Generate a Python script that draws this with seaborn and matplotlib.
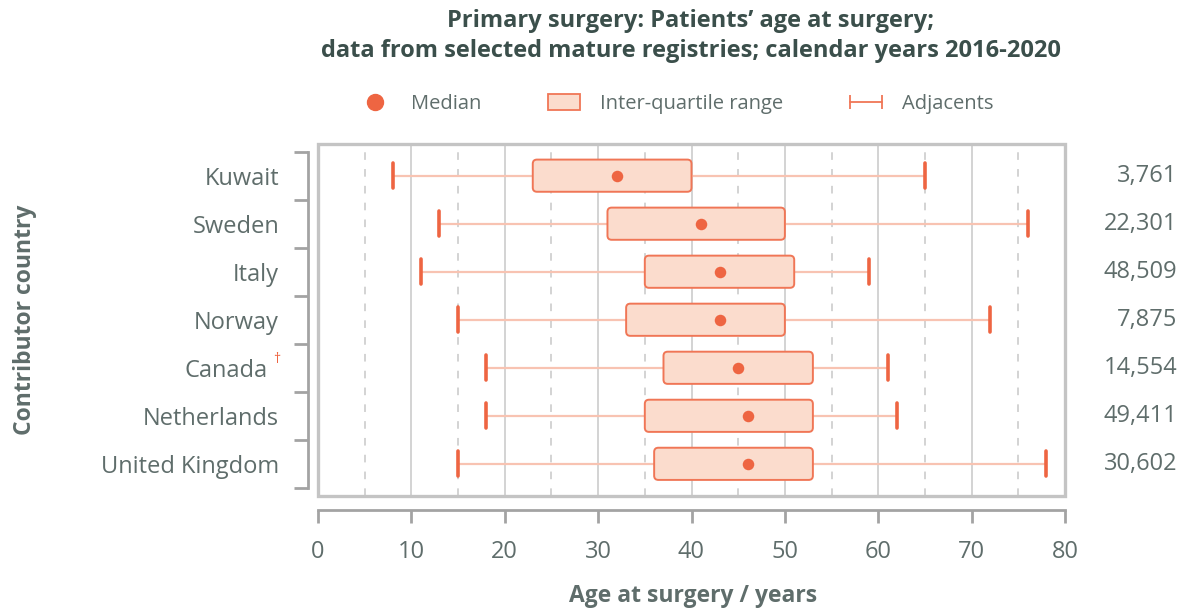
import numpy as np
import pandas as pd
import matplotlib
matplotlib.use("Agg")
import matplotlib.pyplot as plt
import matplotlib.transforms as mtransforms
from matplotlib.patches import FancyBboxPatch, Rectangle, Patch
from matplotlib.lines import Line2D
from matplotlib.legend_handler import HandlerLine2D
import seaborn as sns

# ---------------- data ----------------
countries = ["Kuwait", "Sweden", "Italy", "Norway", "Canada", "Netherlands", "United Kingdom"]
lower_adjacent = [8, 13, 11, 15, 18, 18, 15]
quartile_1 = [23, 31, 35, 33, 37, 35, 36]
median_age = [32, 41, 43, 43, 45, 46, 46]
quartile_3 = [40, 50, 51, 50, 53, 53, 53]
upper_adjacent = [65, 76, 59, 72, 61, 62, 78]
patient_counts = ["3,761", "22,301", "48,509", "7,875", "14,554", "49,411", "30,602"]
x_ticks = [0, 10, 20, 30, 40, 50, 60, 70, 80]
x_minor_ticks = [5, 15, 25, 35, 45, 55, 65, 75]

# five-number summaries as rows (quartiles reproduce exactly with 5 points)
rows = []
for c, a, b, m, d, e in zip(countries, lower_adjacent, quartile_1, median_age, quartile_3, upper_adjacent):
    for v in (a, b, m, d, e):
        rows.append({"country": c, "age": v})
df = pd.DataFrame(rows)
med_df = pd.DataFrame({"country": countries, "age": median_age})

# ---------------- style ----------------
FILL = "#fbdccd"
EDGE = "#f07656"
DOT = "#ee6542"
WHISK = "#f8c3b2"
CAP = "#ee6542"
GRID = "#c8c8c8"
FRAME = "#c4c4c4"
AXIS = "#a3a3a3"
TEXT = "#5f6d6b"
TITLE = "#3b4f4b"

sns.set_theme(style="white")
plt.rcParams["font.family"] = ["Open Sans", "DejaVu Sans"]

fig = plt.figure(figsize=(11.87, 6.11), dpi=100)
ax = fig.add_axes([318 / 1187, 1 - 496 / 611, (1065 - 318) / 1187, (496 - 143.5) / 611])

sns.boxplot(
    data=df, x="age", y="country", order=countries, orient="h",
    whis=(0, 100), width=0.67, showfliers=False,
    color=FILL, linecolor=EDGE, linewidth=1.3,
    boxprops=dict(facecolor=FILL, edgecolor=EDGE, linewidth=1.3),
    whiskerprops=dict(color=WHISK, linewidth=1.6),
    capprops=dict(color=CAP, linewidth=2.6),
    medianprops=dict(visible=False),
    capwidths=0.52,
    ax=ax,
)

sns.stripplot(data=med_df, x="age", y="country", order=countries, orient="h",
              jitter=False, color=DOT, size=8.3, linewidth=0, ax=ax, zorder=5)

ax.set_xlim(0, 80)
ax.set_ylim(6.5 + 0.17, -0.5 - 0.17)

# rounded boxes replacing seaborn's rectangles
fig.canvas.draw()
px_x = ax.transData.transform((1, 0))[0] - ax.transData.transform((0, 0))[0]
px_y = abs(ax.transData.transform((0, 1))[1] - ax.transData.transform((0, 0))[1])
aspect = px_x / px_y
for p in list(ax.patches):
    ext = p.get_path().get_extents()
    if ext.width <= 0:
        continue
    p.set_visible(False)
    fb = FancyBboxPatch((ext.x0, ext.y0), ext.width, ext.height,
                        boxstyle="round,pad=0,rounding_size=0.45",
                        mutation_aspect=aspect,
                        facecolor=FILL, edgecolor=EDGE, linewidth=1.4, zorder=3)
    ax.add_patch(fb)

# grid
ax.set_xticks(x_ticks)
ax.set_xticks(x_minor_ticks, minor=True)
ax.grid(False)
ax.grid(True, which="major", axis="x", color=GRID, linewidth=1.1, zorder=0)
ax.grid(True, which="minor", axis="x", color=GRID, linewidth=1.1, linestyle=(0, (5, 6)), zorder=0)
ax.set_axisbelow(True)

# y axis: labels at centers, ticks at boundaries
ax.set_yticks(range(len(countries)))
ax.set_yticklabels(countries)
ax.set_yticks(np.arange(-0.5, len(countries), 1.0), minor=True)
ax.tick_params(axis="y", which="major", length=0, pad=21, labelsize=17, labelcolor=TEXT)
ax.tick_params(axis="y", which="minor", length=10, width=2, color=AXIS, left=True)
ax.tick_params(axis="x", which="major", length=9, width=2, color=AXIS, bottom=True,
               direction="out", pad=13, labelsize=17, labelcolor=TEXT)
ax.tick_params(axis="x", which="minor", length=0)
ax.set_xlabel("")
ax.set_ylabel("")

for s in ["top", "right"]:
    ax.spines[s].set_visible(False)
ax.spines["left"].set_position(("outward", 7))
ax.spines["left"].set_bounds(-0.5, 6.5)
ax.spines["left"].set_color(AXIS)
ax.spines["left"].set_linewidth(2)
ax.spines["bottom"].set_position(("outward", 10))
ax.spines["bottom"].set_bounds(0, 80)
ax.spines["bottom"].set_color(AXIS)
ax.spines["bottom"].set_linewidth(2)

# frame around the plotting area
ax.add_patch(Rectangle((0, 0), 1, 1, transform=ax.transAxes, fill=False,
                       edgecolor=FRAME, linewidth=2.4, clip_on=False, zorder=6))

# Canada dagger
for lbl in ax.get_yticklabels():
    if lbl.get_text() == "Canada":
        lbl.set_transform(lbl.get_transform() +
                          mtransforms.ScaledTranslation(-8 / 72, 0, fig.dpi_scale_trans))
bt = mtransforms.blended_transform_factory(ax.transAxes, ax.transData)
ax.annotate("\u2020", xy=(0, countries.index("Canada")), xycoords=bt,
            xytext=(-30, 6), textcoords="offset points", ha="center", va="center",
            fontsize=10, color=DOT, annotation_clip=False)

# patient counts at right
for i, n in enumerate(patient_counts):
    ax.annotate(n, xy=(1, i), xycoords=bt, xytext=(81, 0), textcoords="offset points",
                ha="right", va="center", fontsize=17, color=TEXT, annotation_clip=False)

# titles and labels
fig.text(691 / 1187, 1 - 36 / 611,
         "Primary surgery: Patients\u2019 age at surgery;\ndata from selected mature registries; calendar years 2016-2020",
         ha="center", va="center", fontsize=17, fontweight="bold", color=TITLE, linespacing=1.3)
fig.text(25 / 1187, 1 - 320 / 611, "Contributor country", rotation=90,
         ha="center", va="center", fontsize=16.5, fontweight="bold", color=TEXT)
fig.text(693 / 1187, 1 - 596 / 611, "Age at surgery / years",
         ha="center", va="center", fontsize=16.5, fontweight="bold", color=TEXT)

# legend
h_med = Line2D([], [], linestyle="none", marker="o", markersize=11.5, color=DOT)
h_iqr = Patch(facecolor=FILL, edgecolor=EDGE, linewidth=1.3)
h_adj = Line2D([], [], color=EDGE, linewidth=1.3, marker="|", markersize=10, markeredgewidth=1.3)
leg = fig.legend([h_med, h_iqr, h_adj], ["Median", "Inter-quartile range", "Adjacents"],
                 loc="center", bbox_to_anchor=(676 / 1187, 1 - 104 / 611), ncol=3,
                 frameon=False, fontsize=14.5, handlelength=1.6, handleheight=0.85,
                 handletextpad=1.0, columnspacing=3.3,
                 handler_map={h_adj: HandlerLine2D(numpoints=2, marker_pad=0)})
for t in leg.get_texts():
    t.set_color(TEXT)

fig.savefig("out.png", dpi=100)
